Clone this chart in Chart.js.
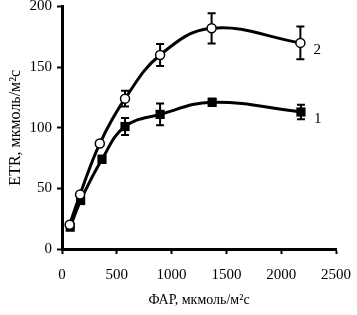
<!DOCTYPE html>
<html>
<head>
<meta charset="utf-8">
<script src="https://cdn.jsdelivr.net/npm/chart.js@4"></script>
<style>
  html, body { margin: 0; padding: 0; background: #fff; }
  #wrap { width: 357px; height: 315px; }
</style>
</head>
<body>
<div id="wrap"><canvas id="chart" width="357" height="315"></canvas></div>
<script>
// Dados
const parX1 = [75, 170, 365, 575, 895, 1370, 2180];   // ФАР, curva 1
const etr1 = [18, 40, 74, 101, 111, 121, 113];        // quadrados pretos
const err1 = [0, 2, 3, 7, 9, 3, 6];

const parX2 = [70, 165, 345, 575, 895, 1365, 2175];   // ФАР, curva 2
const etr2 = [20, 45, 87, 124, 160, 182, 170];        // círculos abertos
const err2 = [0, 0, 2, 6.5, 9, 12.5, 13.5];

const xTicks = [0, 500, 1000, 1500, 2000, 2500];
const yTicks = [0, 50, 100, 150, 200];
const curveLabels = ['1', '2'];

const serif = '"Liberation Serif", "Times New Roman", serif';

// Plugin para as barras de erro (desenhadas antes das linhas)
const errorBars = {
    id: 'errorBars',
    beforeDatasetsDraw(chart) {
        const ctx = chart.ctx;
        const xs = chart.scales.x, ys = chart.scales.y;
        ctx.save();
        ctx.strokeStyle = '#000';
        ctx.lineWidth = 2;
        chart.data.datasets.forEach(ds => {
            ds.data.forEach((p, i) => {
                const e = ds.errors[i];
                if (!e) return;
                const px = xs.getPixelForValue(p.x);
                const top = ys.getPixelForValue(p.y + e);
                const bot = ys.getPixelForValue(p.y - e);
                ctx.beginPath();
                ctx.moveTo(px, top); ctx.lineTo(px, bot);
                ctx.moveTo(px - 4, top); ctx.lineTo(px + 4, top);
                ctx.moveTo(px - 4, bot); ctx.lineTo(px + 4, bot);
                ctx.stroke();
            });
        });
        ctx.restore();
    },
    // rótulos "1" e "2" ao lado do último ponto
    afterDatasetsDraw(chart) {
        const ctx = chart.ctx;
        const xs = chart.scales.x, ys = chart.scales.y;
        ctx.save();
        ctx.fillStyle = '#000';
        ctx.font = '15px ' + serif;
        ctx.textBaseline = 'middle';
        chart.data.datasets.forEach(ds => {
            const last = ds.data[ds.data.length - 1];
            ctx.fillText(ds.label, xs.getPixelForValue(last.x) + 13, ys.getPixelForValue(last.y) + 7);
        });
        ctx.restore();
    }
};

const toPoints = (xs, ys) => xs.map((x, i) => ({ x: x, y: ys[i] }));

new Chart(document.getElementById('chart'), {
    type: 'scatter',
    data: {
        datasets: [
            {
                label: curveLabels[1],
                data: toPoints(parX2, etr2),
                errors: err2,
                showLine: true,
                tension: 0.4,
                borderColor: '#000',
                borderWidth: 3,
                pointStyle: 'circle',
                pointRadius: 4.5,
                pointBorderWidth: 1.5,
                pointBackgroundColor: '#fff',
                pointBorderColor: '#000',
                clip: false
            },
            {
                label: curveLabels[0],
                data: toPoints(parX1, etr1),
                errors: err1,
                showLine: true,
                tension: 0.4,
                borderColor: '#000',
                borderWidth: 3,
                pointStyle: 'rect',
                pointRadius: 6.5,
                pointBorderWidth: 0,
                pointBackgroundColor: '#000',
                pointBorderColor: '#000',
                clip: false
            }
        ]
    },
    options: {
        responsive: false,
        animation: false,
        layout: { padding: 0 },
        plugins: {
            legend: { display: false },
            tooltip: { enabled: false }
        },
        scales: {
            x: {
                type: 'linear',
                min: 0, max: 2500,
                afterBuildTicks: s => { s.ticks = xTicks.map(v => ({ value: v })); },
                afterFit: s => { s.height = 66; s.paddingLeft = 0; s.paddingRight = 21; },
                border: { display: true, color: '#000', width: 3 },
                grid: { drawOnChartArea: false, drawTicks: true, tickLength: 5, tickWidth: 2, tickColor: '#000' },
                ticks: { color: '#000', padding: 12, maxRotation: 0, font: { family: serif, size: 15 }, callback: v => String(v) },
                title: {
                    display: true,
                    text: 'ФАР, мкмоль/м²с',
                    color: '#000',
                    font: { family: serif, size: 14 },
                    padding: { top: 0, bottom: 6 }
                }
            },
            y: {
                type: 'linear',
                min: 0, max: 200,
                afterBuildTicks: s => { s.ticks = yTicks.map(v => ({ value: v })); },
                afterFit: s => { s.width = 62; s.paddingTop = 5; s.paddingBottom = 0; },
                border: { display: true, color: '#000', width: 3 },
                grid: { drawOnChartArea: false, drawTicks: true, tickLength: 5, tickWidth: 2, tickColor: '#000' },
                ticks: { color: '#000', padding: 5, font: { family: serif, size: 15 }, callback: v => String(v) },
                title: {
                    display: true,
                    text: 'ETR, мкмоль/м²с',
                    color: '#000',
                    font: { family: serif, size: 16 },
                    padding: { top: 6, bottom: 0 }
                }
            }
        }
    },
    plugins: [errorBars]
});
</script>
</body>
</html>
